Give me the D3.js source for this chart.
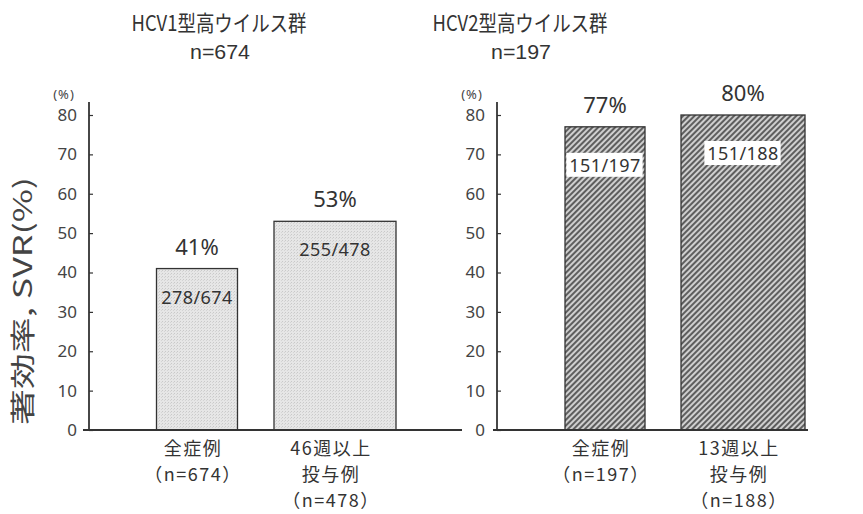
<!DOCTYPE html>
<html>
<head>
<meta charset="utf-8">
<script src="https://cdn.jsdelivr.net/npm/d3@7"></script>
<style>
  html, body { margin: 0; padding: 0; background: #fff; }
  svg { display: block; font-family: "Noto Sans CJK JP", "Noto Sans", sans-serif; }
</style>
</head>
<body>
<svg id="chart" width="863" height="514"></svg>
<script>
// SVR rates by HCV genotype group
const panelTitles = ["HCV1型高ウイルス群", "HCV2型高ウイルス群"];
const panelN = ["n=674", "n=197"];
const categories1 = [["全症例", "（n=674）"], ["46週以上", "投与例", "（n=478）"]];
const categories2 = [["全症例", "（n=197）"], ["13週以上", "投与例", "（n=188）"]];
const values1 = [41, 53];
const values2 = [77, 80];
const counts1 = ["278/674", "255/478"];
const counts2 = ["151/197", "151/188"];
const yTicks = [0, 10, 20, 30, 40, 50, 60, 70, 80];

const svg = d3.select("#chart");
const ink = "#333";

// fill patterns: light stipple and dark diagonal hatch
const defs = svg.append("defs");
const stip = defs.append("pattern").attr("id", "stipple")
  .attr("patternUnits", "userSpaceOnUse").attr("width", 3).attr("height", 3);
stip.append("rect").attr("width", 3).attr("height", 3).attr("fill", "#e6e6e6");
stip.append("rect").attr("x", 0).attr("y", 0).attr("width", 1).attr("height", 1).attr("fill", "#c9c9c9");
stip.append("rect").attr("x", 2).attr("y", 1).attr("width", 1).attr("height", 1).attr("fill", "#d4d4d4");
const hatch = defs.append("pattern").attr("id", "hatch")
  .attr("patternUnits", "userSpaceOnUse").attr("width", 4).attr("height", 4)
  .attr("patternTransform", "rotate(45)");
hatch.append("rect").attr("width", 4).attr("height", 4).attr("fill", "#cfcfcf");
hatch.append("line").attr("x1", 1).attr("y1", 0).attr("x2", 1).attr("y2", 4)
  .attr("stroke", "#4a4a4a").attr("stroke-width", 1.7);

const y = d3.scaleLinear().domain([0, 80]).range([430, 115]);

// shared y-axis title
svg.append("text")
  .attr("transform", "translate(32,301) rotate(-90)")
  .attr("text-anchor", "middle")
  .attr("font-size", 25).attr("fill", "#444")
  .attr("textLength", 248).attr("lengthAdjust", "spacingAndGlyphs")
  .text("著効率, SVR(%)");

const panels = [
  { axisX: 89, baseFrom: 83, baseTo: 462, titleX: 219, cats: categories1, vals: values1,
    counts: counts1, fill: "url(#stipple)", boxed: false, labelDy: 35, widths: [81, 122] },
  { axisX: 497, baseFrom: 493, baseTo: 808, titleX: 520, cats: categories2, vals: values2,
    counts: counts2, fill: "url(#hatch)", boxed: true, labelDy: 45, widths: [80, 124] }
];

panels.forEach((p, pi) => {
  const g = svg.append("g");

  // titles
  g.append("text").attr("x", p.titleX).attr("y", 31).attr("text-anchor", "middle")
    .attr("font-size", 22).attr("fill", ink)
    .attr("textLength", 175).attr("lengthAdjust", "spacingAndGlyphs")
    .text(panelTitles[pi]);
  g.append("text").attr("x", p.titleX + 1).attr("y", 59).attr("text-anchor", "middle")
    .attr("font-size", 21).attr("fill", ink)
    .attr("font-family", "Liberation Sans, sans-serif")
    .attr("textLength", 60).attr("lengthAdjust", "spacingAndGlyphs")
    .text(panelN[pi]);

  // y axis with inward ticks
  const axis = d3.axisLeft(y).tickValues(yTicks).tickSizeInner(-4).tickSizeOuter(0).tickPadding(12);
  const ax = g.append("g").attr("transform", `translate(${p.axisX},0)`).call(axis);
  ax.select(".domain").remove();
  ax.selectAll(".tick line").attr("stroke", ink).attr("stroke-width", 1.2);
  ax.selectAll(".tick text").attr("font-size", 17).attr("fill", "#444")
    .attr("font-family", "Noto Sans, sans-serif");
  g.append("line").attr("x1", p.axisX).attr("x2", p.axisX).attr("y1", y(0)).attr("y2", 102)
    .attr("stroke", ink).attr("stroke-width", 1.8);
  g.append("text").attr("x", p.axisX - 25).attr("y", 99).attr("text-anchor", "middle")
    .attr("font-size", 13).attr("fill", "#444").attr("font-family", "Noto Sans, sans-serif")
    .attr("letter-spacing", 1)
    .text("(%)");

  // bars positioned by category
  const x = d3.scalePoint().domain(d3.range(p.vals.length))
    .range([p.axisX + 108, p.axisX + 246]);

  g.selectAll("rect.bar").data(p.vals).join("rect").attr("class", "bar")
    .attr("x", (d, i) => x(i) - p.widths[i] / 2)
    .attr("width", (d, i) => p.widths[i])
    .attr("y", d => y(d))
    .attr("height", d => y(0) - y(d))
    .attr("fill", p.fill).attr("stroke", ink).attr("stroke-width", 1.3);

  // baseline
  g.append("line").attr("x1", p.baseFrom).attr("x2", p.baseTo).attr("y1", y(0)).attr("y2", y(0))
    .attr("stroke", ink).attr("stroke-width", 1.8);

  // percent labels above bars
  g.selectAll("text.pct").data(p.vals).join("text").attr("class", "pct")
    .attr("x", (d, i) => x(i)).attr("y", d => y(d) - 14)
    .attr("text-anchor", "middle").attr("font-size", 22).attr("fill", ink)
    .attr("font-family", "Noto Sans, sans-serif")
    .text(d => d + "%");

  // responder counts inside bars
  p.vals.forEach((d, i) => {
    const t = g.append("text").attr("x", x(i)).attr("y", y(d) + p.labelDy)
      .attr("text-anchor", "middle").attr("font-size", 18).attr("fill", ink)
      .attr("font-family", "Noto Sans, sans-serif")
      .attr("letter-spacing", 0.4)
      .text(p.counts[i]);
    if (p.boxed) {
      const b = t.node().getBBox();
      g.insert("rect", () => t.node())
        .attr("x", b.x - 3).attr("y", b.y).attr("width", b.width + 5).attr("height", b.height)
        .attr("fill", "#fff");
    }
  });

  // category labels under the axis
  p.cats.forEach((lines, i) => {
    const t = g.append("text").attr("text-anchor", "middle")
      .attr("font-size", 18).attr("fill", ink).attr("letter-spacing", 1.5);
    lines.forEach((ln, k) => {
      t.append("tspan").attr("x", x(i) - 4).attr("y", 455 + k * 26).text(ln);
    });
  });
});
</script>
</body>
</html>
